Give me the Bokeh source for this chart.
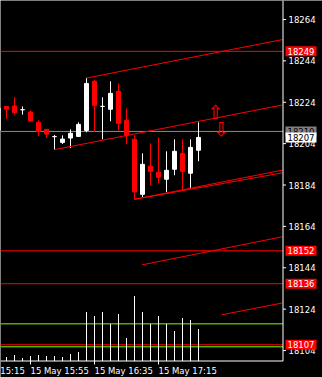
from bokeh.plotting import figure
from bokeh.models import Range1d, ColumnDataSource
from bokeh.embed import file_html
from bokeh.resources import INLINE
from bokeh.core.properties import value

# ---------------- data ----------------
# 5-minute bars, bar index 0 = 15 May 15:40
bar_idx = list(range(-1, 25))
opens = [18210.4, 18222.0, 18222.2, 18220.4, 18219.3, 18214.3, 18210.9, 18207.4, 18204.6,
         18206.7, 18207.5, 18210.4, 18234.1, 18222.0, 18220.6, 18229.3, 18215.3, 18206.1,
         18179.5, 18193.1, 18190.2, 18186.8, 18191.6, 18199.3, 18189.7, 18200.8]
highs = [18222.0, 18222.0, 18226.5, 18222.0, 18220.1, 18215.3, 18210.9, 18208.2, 18208.0,
         18210.9, 18214.3, 18235.7, 18235.0, 18226.4, 18234.1, 18233.1, 18221.0, 18208.0,
         18199.3, 18204.2, 18207.0, 18200.3, 18206.1, 18206.1, 18206.1, 18214.3]
lows = [18209.0, 18215.9, 18218.0, 18218.0, 18214.9, 18207.7, 18206.7, 18201.1, 18203.8,
        18201.9, 18207.5, 18209.5, 18209.6, 18206.1, 18214.8, 18210.4, 18203.7, 18177.1,
        18178.1, 18183.9, 18184.8, 18180.5, 18188.7, 18181.5, 18182.4, 18195.5]
closes = [18221.2, 18220.7, 18219.0, 18220.4, 18214.9, 18209.8, 18208.6, 18207.4, 18206.2,
          18209.0, 18213.3, 18233.1, 18222.5, 18222.0, 18228.3, 18213.8, 18208.0, 18180.7,
          18194.0, 18190.6, 18187.7, 18191.1, 18200.3, 18190.6, 18202.2, 18207.0]
volumes = [5, 4, 6, 3, 5, 6, 5, 5, 4, 7, 9, 49, 45, 49, 37, 47, 23, 65, 49, 37, 45, 37,
           30, 43, 41, 32]

# time axis labels (bar index -> text)
time_tick_bars = [-5, 3, 11, 19]
time_tick_texts = ["15 May 15:15", "15 May 15:55", "15 May 16:35", "15 May 17:15"]

# price axis ticks
price_ticks = [18104, 18124, 18144, 18164, 18184, 18204, 18224, 18244, 18264]

# horizontal levels
red_levels = [18248.6, 18152.2, 18136.3, 18106.8]
gray_level = 18209.9
green_levels = [18116.9, 18105.8]
last_price = closes[-1]

# trend / channel lines (start bar, start price, end bar, end price)
chan_x0 = [10, 6, 16, 16, 16.93, 26.93]
chan_p0 = [18235.7, 18201.1, 18177.1, 18177.1, 18145.4, 18121.3]
chan_x1 = [34.5, 34.5, 34.5, 34.5, 34.5, 34.5]
chan_p1 = [18254.3, 18222.7, 18191.2, 18189.9, 18159.0, 18127.0]

# arrow objects
arrow_bar = [26.1, 26.8]
arrow_price = [18219.5, 18211.3]
arrow_glyph = ["\u21e7", "\u21e9"]

# ---------------- layout / style ----------------
W, H = 322, 377
BAR_PX = 8.0            # pixels per bar
PX_PER_PT = 2.069       # pixels per price point
X0 = -6.0 / BAR_PX      # left edge of canvas in bar units
P_TOP = 18273.18        # price at top edge
EDGE_X = 34.5625        # right edge of chart area (bar units)
P_BOT = P_TOP - 360.5 / PX_PER_PT   # bottom edge of chart area (price)

def dx(px):
    return px / BAR_PX

def dy(px):
    return px / PX_PER_PT

RED = "#ff0000"
FONT = value("DejaVu Sans")
FS = "8.5px"

p = figure(width=W, height=H,
           x_range=Range1d(X0, X0 + W / BAR_PX), y_range=Range1d(P_TOP - H / PX_PER_PT, P_TOP),
           x_axis_location=None, y_axis_location=None,
           output_backend="svg", toolbar_location=None,
           background_fill_color="black", border_fill_color="black", min_border=0)
p.outline_line_color = None
p.grid.visible = False
p.extra_y_ranges = {"vol": Range1d(-16.5, 360.5)}

# horizontal levels (chart area only)
def hlines(levels, color, width=1):
    n = len(levels)
    p.segment(x0=[X0] * n, y0=levels, x1=[EDGE_X] * n, y1=levels,
              line_color=color, line_width=width)

hlines([gray_level], "#8c8c8c")
hlines(green_levels, "#7cfc00")
hlines(red_levels, RED)

# volumes
vsrc = ColumnDataSource(dict(x=bar_idx, v=volumes, z=[0] * len(volumes)))
p.segment(x0="x", y0="z", x1="x", y1="v", source=vsrc, line_color="white",
          line_width=1, y_range_name="vol")

# candles
colors = ["white" if c >= o else RED for o, c in zip(opens, closes)]
csrc = ColumnDataSource(dict(
    x=bar_idx, h=highs, l=lows,
    top=[max(o, c) for o, c in zip(opens, closes)],
    bot=[min(o, c) for o, c in zip(opens, closes)],
    col=colors))
p.segment(x0="x", y0="l", x1="x", y1="h", source=csrc, line_color="col", line_width=1)
p.vbar(x="x", width=0.5, top="top", bottom="bot", source=csrc,
       fill_color="col", line_color="col", line_width=1)

# channel lines
p.segment(x0=chan_x0, y0=chan_p0, x1=chan_x1, y1=chan_p1, line_color=RED, line_width=1)

# arrows
p.text(x=arrow_bar, y=arrow_price, text=arrow_glyph, text_color=RED,
       text_font=FONT, text_font_size="19px", text_align="center",
       text_baseline="middle")

# ---- axes (drawn through the scales) ----
p.segment(x0=[EDGE_X, X0], y0=[P_BOT, P_BOT], x1=[EDGE_X, EDGE_X], y1=[P_TOP, P_BOT],
          line_color="white", line_width=1)
n = len(price_ticks)
p.segment(x0=[EDGE_X] * n, y0=price_ticks, x1=[EDGE_X + dx(3)] * n, y1=price_ticks,
          line_color="white", line_width=1)
p.text(x=[EDGE_X + dx(5.5)] * n, y=price_ticks, text=[str(t) for t in price_ticks],
       text_color="white", text_font=FONT, text_font_size=FS,
       text_align="left", text_baseline="middle")
m = len(time_tick_bars)
p.segment(x0=time_tick_bars, y0=[P_BOT] * m, x1=time_tick_bars, y1=[P_BOT - dy(3.5)] * m,
          line_color="white", line_width=1)
p.text(x=time_tick_bars, y=[P_BOT - dy(4.5)] * m, text=time_tick_texts,
       text_color="white", text_font=FONT, text_font_size=FS,
       text_align="left", text_baseline="top")

# price labels in the axis area (boxes), drawn in stacking order
LBL_X = EDGE_X + dx(18)

def price_boxes(levels, bg, fg):
    k = len(levels)
    p.rect(x=[LBL_X] * k, y=levels, width=31, height=10, width_units="screen",
           height_units="screen", fill_color=bg, line_color=None)
    p.text(x=[LBL_X] * k, y=levels, text=[f"{round(v)}" for v in levels],
           text_color=fg, text_font=FONT, text_font_size=FS,
           text_align="center", text_baseline="middle")

price_boxes(red_levels, RED, "white")
price_boxes([gray_level], "#808080", "black")
price_boxes([last_price], "white", "black")

open("out.html", "w").write(file_html(p, INLINE))
